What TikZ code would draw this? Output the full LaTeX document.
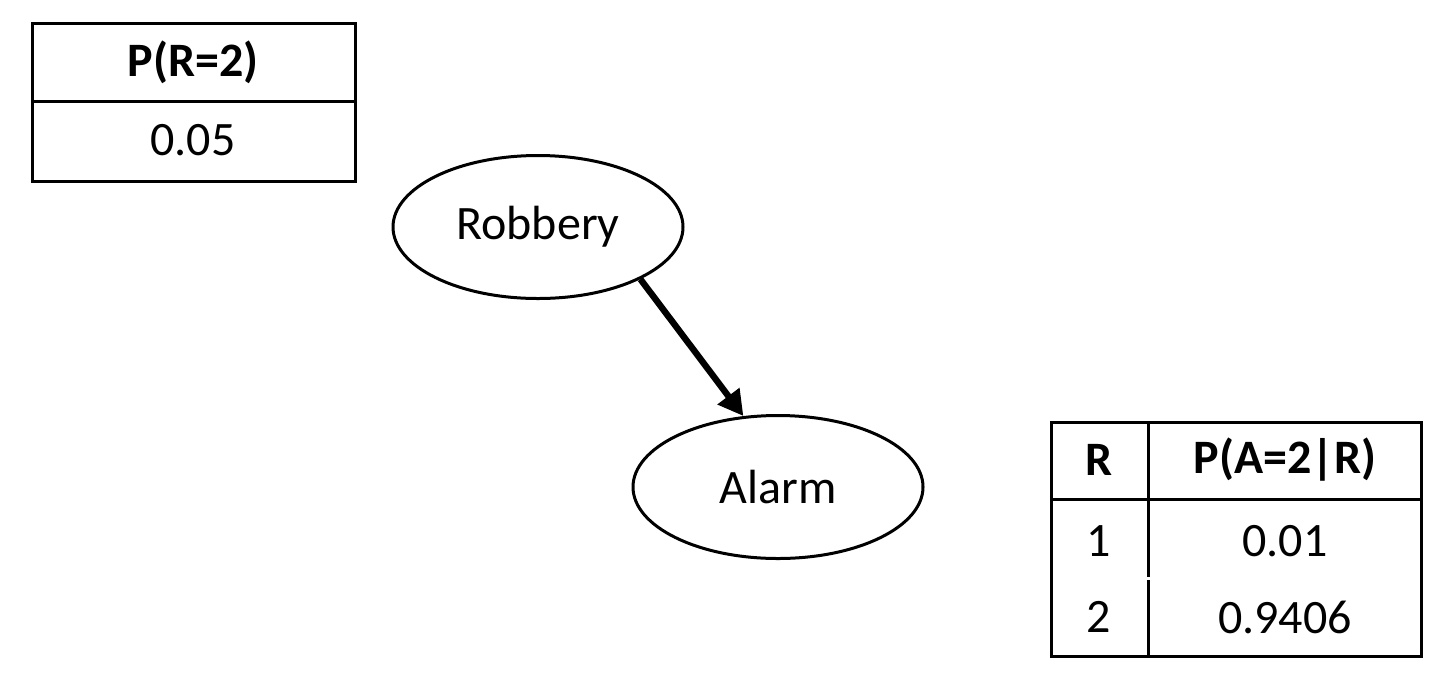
\documentclass[tikz,border=0pt]{standalone}
\usepackage{fontspec}
\setmainfont{Carlito}
\usetikzlibrary{shapes.geometric,arrows.meta}
\begin{document}
\begin{tikzpicture}[x=0.5pt,y=0.5pt,yscale=-1,
    var/.style={draw,ellipse,line width=1.5pt,minimum width=145pt,minimum height=71.5pt,inner sep=0pt,font=\fontsize{24}{29}\selectfont},
    cell/.style={inner sep=0pt,font=\fontsize{24}{29}\selectfont},
    head/.style={cell,font=\fontsize{24}{29}\selectfont\bfseries},
    rule/.style={line width=1.5pt}]
        \useasboundingbox (0,0) rectangle (1450,676);
        \draw [rule] (32,23) rectangle (355,181) ;
        \draw [rule] (32,101) -- (355,101) ;
        \node [head] (prhead) at (193,62) {P(R=2)};
        \node [cell] (prval) at (193,140) {0.05};
        \node [var] (robbery) at (538,227) {Robbery};
        \node [var] (alarm) at (778,487) {Alarm};
        \draw [line width=3.2pt,-{Triangle[length=12.5pt,width=13pt]}] (robbery.-27) -- (alarm.116) ;
        \draw [rule] (1051,422) rectangle (1421,656) ;
        \draw [rule] (1051,499) -- (1421,499) ;
        \draw [rule] (1148,422) -- (1148,577) ;
        \draw [rule] (1148,580) -- (1148,656) ;
        \node [head] (rhead) at (1099,460) {R};
        \node [head] (pahead) at (1285,460) {P(A=2|R)};
        \node [cell] (rone) at (1099,541) {1};
        \node [cell] (paone) at (1285,541) {0.01};
        \node [cell] (rtwo) at (1099,617) {2};
        \node [cell] (patwo) at (1285,617) {0.9406};
\end{tikzpicture}
\end{document}
